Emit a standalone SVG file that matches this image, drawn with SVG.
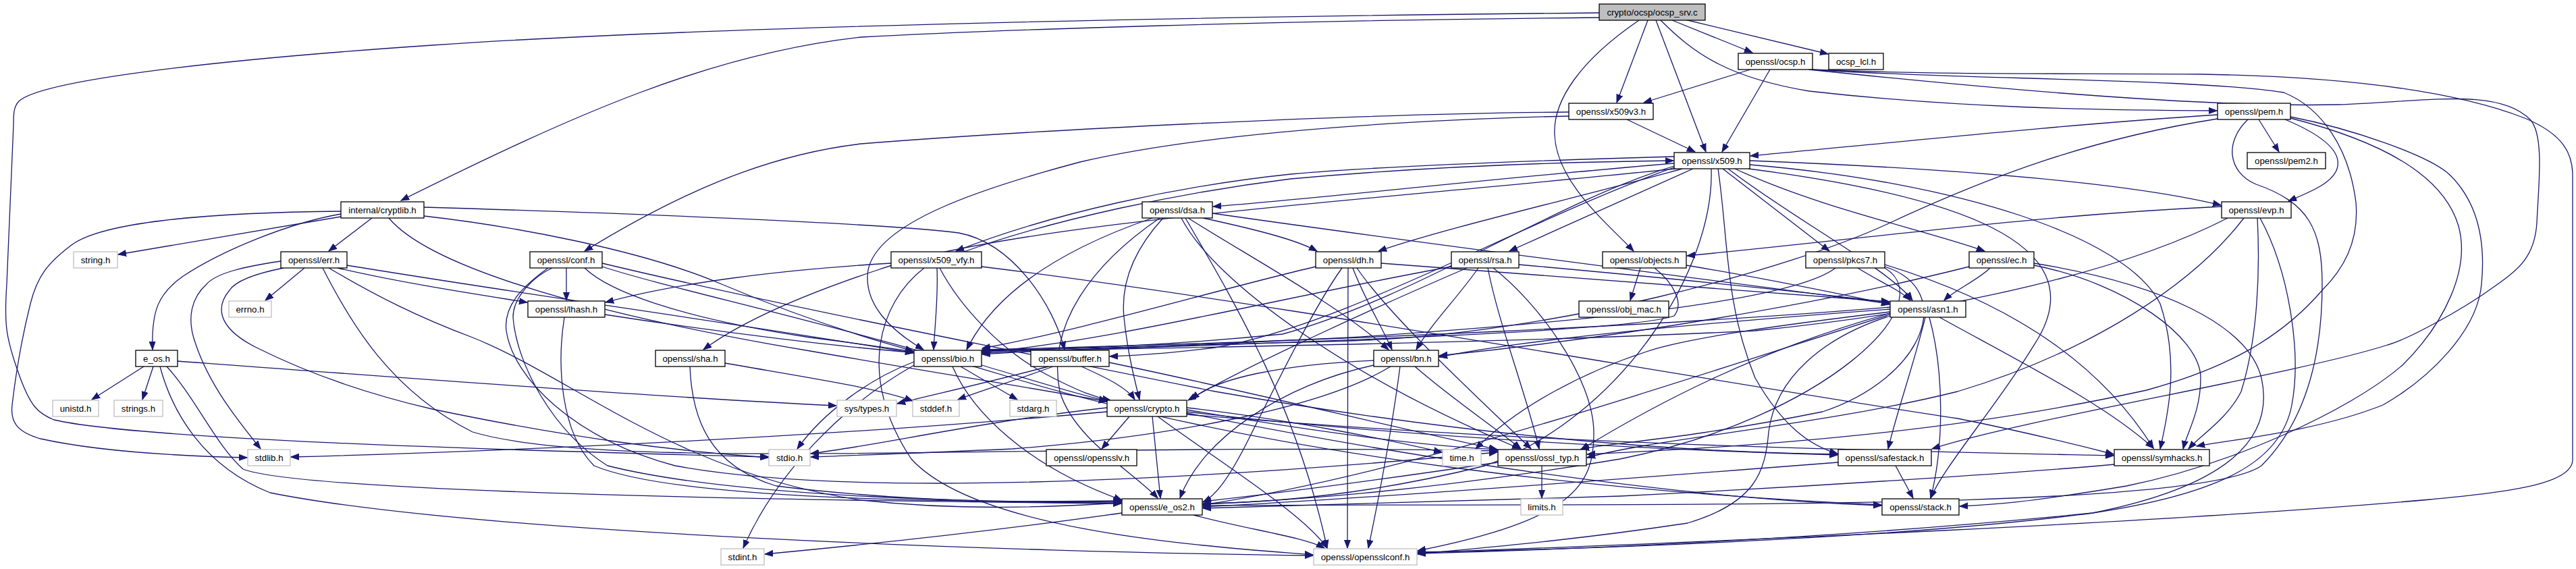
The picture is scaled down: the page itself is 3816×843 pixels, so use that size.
<svg xmlns="http://www.w3.org/2000/svg" width="3816" height="843" viewBox="0 0 3816 843">
<defs>
<style>
.e{fill:none;stroke:#191970;stroke-width:1.3;marker-end:url(#a)}
.n rect{fill:#fff;stroke:#000;stroke-width:1.3}
.g rect{fill:#fff;stroke:#bfbfbf;stroke-width:1.3}
text{font-family:"Liberation Sans",Arial,Helvetica,sans-serif;font-size:13.3px;text-anchor:middle;fill:#000}
</style>
<marker id="a" markerWidth="13" markerHeight="10" refX="12" refY="5" orient="auto" markerUnits="userSpaceOnUse"><path d="M0,0.5 L12,5 L0,9.5 z" fill="#191970" stroke="#191970" stroke-width="1"/></marker>
</defs>
<rect x="0" y="0" width="3816" height="843" fill="#fff"/>
<g id="edges">
<path class="e" d="M2369,19 C1700,25 1000,42 640,67 C300,90 60,120 28,150 C20,158 20,170 20,185 L10,421 C6,480 8,500 30,560 C45,600 55,612 80,622 C200,650 700,666 1139,677"/>
<path class="e" d="M2369,26 C1900,30 1450,45 1276,55 C1050,80 850,170 594,297"/>
<path class="e" d="M2428,30 C2340,90 2300,150 2303,200 C2306,270 2380,330 2420,372"/>
<path class="e" d="M2441,30 L2395,152"/>
<path class="e" d="M2453,30 L2527,225"/>
<path class="e" d="M2460,30 C2510,80 2560,115 2680,135 C2900,160 3100,163 3284,164"/>
<path class="e" d="M2477,30 L2596,78"/>
<path class="e" d="M2496,29 L2708,80"/>
<path class="e" d="M2593,103 L2435,152"/>
<path class="e" d="M2622,103 L2551,225"/>
<path class="e" d="M2684,103 C2900,112 3100,108 3261,110 C3500,114 3650,140 3740,175 C3800,200 3811,230 3811,260 L3811,681 C3811,720 3700,730 3600,740 C3200,775 2600,800 2100,819"/>
<path class="e" d="M2682,103 C2900,118 3250,116 3383,137 C3440,160 3480,220 3490,300 C3495,360 3470,400 3440,430 C3380,500 3300,545 3180,578 C2900,640 2600,662 2351,673"/>
<path class="e" d="M2679,103 C2900,126 3250,160 3464,155 C3600,150 3700,130 3748,177 C3770,200 3760,280 3758,330 C3755,380 3730,400 3700,421 C3640,465 3560,505 3537,511 C3400,555 3000,620 2862,665"/>
<path class="e" d="M2410,177 L2511,225"/>
<path class="e" d="M2324,166 C2000,168 1500,195 1276,213 C1130,230 1000,290 866,372"/>
<path class="e" d="M2324,172 C2000,180 1750,205 1600,240 C1450,280 1300,330 1286,400 C1278,450 1320,490 1368,518"/>
<path class="e" d="M3285,170 C3050,185 2800,212 2593,231"/>
<path class="e" d="M3285,176 C3100,205 2950,260 2800,330 C2650,400 2300,495 2000,505 C1750,512 1550,516 1455,520"/>
<path class="e" d="M3330,177 C3295,210 3300,255 3342,273 C3420,300 3440,340 3440,421 C3440,520 3420,620 3350,690 C3250,760 2400,745 1782,749"/>
<path class="e" d="M3346,177 L3376,225"/>
<path class="e" d="M3385,177 C3440,200 3470,225 3462,250 C3455,272 3420,285 3390,298"/>
<path class="e" d="M3393,173 C3480,190 3600,230 3630,260 C3680,310 3680,380 3676,421 C3670,490 3600,560 3530,600 C3430,640 3300,652 3254,661"/>
<path class="e" d="M3393,175 C3530,210 3620,260 3642,335 C3660,400 3620,480 3560,540 C3480,610 3300,690 3150,720 C3000,745 2950,748 2903,750"/>
<path class="e" d="M2480,232 C2200,240 2000,250 1912,258 C1750,275 1560,315 1416,372"/>
<path class="e" d="M1428,373 C1560,325 1750,285 1912,265 C2100,248 2300,240 2479,238"/>
<path class="e" d="M2480,242 C2200,265 1950,295 1797,306"/>
<path class="e" d="M2492,250 C2350,290 2150,335 2042,372"/>
<path class="e" d="M2508,250 L2236,372"/>
<path class="e" d="M2552,250 L2710,372"/>
<path class="e" d="M2570,250 C2700,310 2850,340 2940,372"/>
<path class="e" d="M2560,250 C2650,320 2800,400 2833,445"/>
<path class="e" d="M2480,246 C2300,300 2100,440 1900,495 C1700,515 1550,517 1455,519"/>
<path class="e" d="M2480,248 C2250,330 2000,480 1800,515 C1720,525 1680,527 1644,528"/>
<path class="e" d="M2482,250 C2000,300 1500,330 1300,400 C1150,450 1080,490 1042,518"/>
<path class="e" d="M2592,238 C2900,250 3150,270 3290,304"/>
<path class="e" d="M2545,250 C2560,350 2555,450 2600,560 C2640,630 2680,660 2722,672"/>
<path class="e" d="M2590,250 C2900,290 3100,360 3020,500 C2960,600 2880,690 2860,738"/>
<path class="e" d="M2592,244 C2900,270 3150,350 3200,450 C3230,540 3210,620 3200,665"/>
<path class="e" d="M2535,250 C2540,400 2400,620 2200,690 C2000,740 1850,745 1782,746"/>
<path class="e" d="M505,313 C300,315 150,330 106,363 C70,390 55,410 45,450 C35,490 25,540 18,600 C15,625 25,640 60,650 C150,670 280,676 366,678"/>
<path class="e" d="M505,317 C430,330 330,370 270,410 C235,435 224,460 226,518"/>
<path class="e" d="M505,321 L175,377"/>
<path class="e" d="M551,323 L487,372"/>
<path class="e" d="M576,323 C640,400 900,470 1200,520 C1400,555 1550,578 1640,595"/>
<path class="e" d="M628,307 C900,315 1300,330 1420,345 C1500,360 1560,450 1577,518"/>
<path class="e" d="M628,320 C760,335 950,370 1069,421 C1180,468 1280,500 1353,520"/>
<path class="e" d="M416,387 C360,395 320,405 306,421 C285,440 275,470 290,510 C310,570 350,620 386,665"/>
<path class="e" d="M420,397 C380,405 350,415 340,430 C315,460 330,490 380,515 C460,555 550,585 640,606 C850,650 1000,668 1138,678"/>
<path class="e" d="M451,397 L393,445"/>
<path class="e" d="M478,397 C520,480 580,580 700,640 C900,700 1500,655 2218,668"/>
<path class="e" d="M487,397 C560,440 620,470 700,500 C850,560 1000,700 1276,741 C1450,760 1600,748 1661,745"/>
<path class="e" d="M500,397 C600,420 700,435 781,448"/>
<path class="e" d="M514,393 C800,440 1100,480 1353,523"/>
<path class="e" d="M839,397 L839,445"/>
<path class="e" d="M866,397 C900,430 1000,470 1200,500 C1280,510 1320,516 1353,521"/>
<path class="e" d="M892,395 C1000,430 1200,470 1500,560 C1900,680 2400,730 2787,748"/>
<path class="e" d="M892,390 C1100,440 1400,500 1800,580 C2200,650 2500,670 2722,673"/>
<path class="e" d="M818,397 C790,410 760,440 760,470 C765,540 820,640 900,690 C1100,740 1500,745 1661,743"/>
<path class="e" d="M812,397 C780,420 745,450 750,490 C760,560 850,650 1000,690 C1300,745 1900,700 2218,670"/>
<path class="e" d="M1320,390 C1150,400 1000,420 897,448"/>
<path class="e" d="M1369,397 C1300,450 1270,560 1350,680 C1450,790 1800,810 1945,822"/>
<path class="e" d="M1388,397 C1390,440 1385,480 1383,518"/>
<path class="e" d="M1392,397 C1420,450 1480,520 1560,560 C1600,580 1620,588 1645,593"/>
<path class="e" d="M1454,395 C1900,450 2500,560 2900,620 C3000,640 3100,665 3131,673"/>
<path class="e" d="M1707,323 C1600,360 1480,420 1432,518"/>
<path class="e" d="M1723,323 C1680,370 1660,420 1665,470 C1670,520 1680,560 1688,592"/>
<path class="e" d="M1718,323 C1620,390 1550,480 1570,580 C1590,650 1680,700 1715,738"/>
<path class="e" d="M1750,323 C1800,420 2000,560 2252,665"/>
<path class="e" d="M1756,323 C1830,450 1920,600 1966,812"/>
<path class="e" d="M1760,323 C1850,380 1980,450 2057,518"/>
<path class="e" d="M1782,323 C1860,340 1920,355 1951,372"/>
<path class="e" d="M1796,316 C2100,360 2500,410 2799,450"/>
<path class="e" d="M1949,395 C1800,430 1600,490 1455,516"/>
<path class="e" d="M1988,397 C1950,450 1900,550 1850,650 C1820,710 1800,735 1782,744"/>
<path class="e" d="M1997,397 C1997,500 1996,700 1996,812"/>
<path class="e" d="M2004,397 C2020,440 2045,480 2062,518"/>
<path class="e" d="M2010,397 C2060,470 2180,580 2268,665"/>
<path class="e" d="M2046,390 C2300,410 2600,430 2799,447"/>
<path class="e" d="M2150,395 C1900,440 1650,505 1455,522"/>
<path class="e" d="M2173,397 C2050,450 1850,540 1760,593"/>
<path class="e" d="M2190,397 C2160,440 2120,480 2098,518"/>
<path class="e" d="M2204,397 C2220,480 2260,580 2280,665"/>
<path class="e" d="M2212,397 C2280,450 2360,560 2361,640 C2362,720 2330,770 2100,816"/>
<path class="e" d="M2250,392 C2450,410 2650,430 2799,448"/>
<path class="e" d="M2430,397 L2415,445"/>
<path class="e" d="M2451,397 C2480,420 2495,450 2480,468 C2420,490 2000,505 1455,523"/>
<path class="e" d="M2498,393 C2600,410 2700,430 2799,451"/>
<path class="e" d="M2752,397 C2780,415 2815,430 2830,445"/>
<path class="e" d="M2719,397 C2650,450 2300,480 2000,500 C1700,515 1550,518 1455,525"/>
<path class="e" d="M2792,392 C2950,440 3100,520 3190,664"/>
<path class="e" d="M2792,395 C2900,430 2850,560 2700,610 C2500,650 2400,655 2342,665"/>
<path class="e" d="M2792,397 C2880,450 2700,620 2400,680 C2100,730 1900,742 1782,747"/>
<path class="e" d="M2917,395 C2700,450 2400,500 2132,527"/>
<path class="e" d="M2948,397 C2930,415 2895,430 2880,445"/>
<path class="e" d="M3013,390 C3200,420 3330,480 3350,560 C3370,650 3300,720 3100,760 C2800,800 2300,815 2100,818"/>
<path class="e" d="M3013,393 C3150,420 3260,500 3260,560 C3260,610 3240,640 3234,665"/>
<path class="e" d="M836,470 C825,540 830,640 880,690 C1000,740 1400,745 1661,742"/>
<path class="e" d="M896,466 C1050,490 1250,515 1353,522"/>
<path class="e" d="M2800,462 C2650,480 2500,500 2439,521 C2350,550 2250,600 2186,665"/>
<path class="e" d="M2800,466 C2500,560 2100,700 1782,748"/>
<path class="e" d="M2800,468 C2700,500 2630,560 2620,640 C2615,700 2600,745 2500,775 C2300,805 2150,815 2100,821"/>
<path class="e" d="M2800,455 C2500,480 2000,505 1455,518"/>
<path class="e" d="M2858,470 C2880,550 2880,660 2860,738"/>
<path class="e" d="M2852,470 C2835,540 2810,610 2797,665"/>
<path class="e" d="M2873,470 C3000,540 3120,600 3190,664"/>
<path class="e" d="M2800,464 C2600,520 2450,600 2342,666"/>
<path class="e" d="M2800,458 C2500,480 2250,505 2132,529"/>
<path class="e" d="M213,543 L136,592"/>
<path class="e" d="M227,543 L211,592"/>
<path class="e" d="M237,543 C255,610 300,690 400,730 C700,790 1500,818 1945,823"/>
<path class="e" d="M247,543 C290,590 320,660 360,695 C450,730 1200,742 1661,746"/>
<path class="e" d="M263,535 C600,560 1000,590 1239,601"/>
<path class="e" d="M1022,543 C1025,620 1050,690 1150,720 C1350,745 1550,745 1661,745"/>
<path class="e" d="M1074,538 C1200,560 1300,575 1352,594"/>
<path class="e" d="M1354,536 C1290,560 1220,610 1181,665"/>
<path class="e" d="M1354,541 C1250,600 1150,700 1101,812"/>
<path class="e" d="M1411,543 C1440,610 1520,690 1662,741"/>
<path class="e" d="M1423,543 L1507,592"/>
<path class="e" d="M1454,541 C1520,560 1580,580 1640,594"/>
<path class="e" d="M1553,543 C1450,570 1380,585 1329,598"/>
<path class="e" d="M1560,543 C1500,565 1450,580 1419,592"/>
<path class="e" d="M1602,543 C1640,560 1670,575 1681,592"/>
<path class="e" d="M1643,537 C1850,580 2050,630 2218,666"/>
<path class="e" d="M2035,534 C1900,540 1800,560 1765,592"/>
<path class="e" d="M2035,541 C1900,570 1780,650 1748,738"/>
<path class="e" d="M2060,543 C1950,610 1700,650 1500,665 C1350,672 1250,675 1201,677"/>
<path class="e" d="M2074,543 C2060,650 2040,750 2027,812"/>
<path class="e" d="M2096,543 C2150,590 2210,630 2253,665"/>
<path class="e" d="M1640,604 C1450,625 1300,660 1201,672"/>
<path class="e" d="M1640,610 C1200,650 700,670 431,677"/>
<path class="e" d="M1673,617 L1632,665"/>
<path class="e" d="M1707,617 L1719,738"/>
<path class="e" d="M1758,604 C1900,620 2050,650 2136,670"/>
<path class="e" d="M1758,607 C1950,640 2100,660 2218,666"/>
<path class="e" d="M1715,617 C1800,680 1930,760 1966,812"/>
<path class="e" d="M1758,610 C2100,650 2500,668 2722,674"/>
<path class="e" d="M1758,612 C2100,680 2500,740 2787,749"/>
<path class="e" d="M1758,614 C2300,660 2800,668 3131,675"/>
<path class="e" d="M2284,690 L2284,738"/>
<path class="e" d="M2219,685 C2050,710 1900,730 1782,743"/>
<path class="e" d="M2808,690 L2834,738"/>
<path class="e" d="M2723,685 C2400,710 2000,740 1782,751"/>
<path class="e" d="M3132,688 C3000,700 2700,720 2400,735 C2100,745 1900,748 1782,753"/>
<path class="e" d="M1662,760 C1450,790 1250,810 1133,821"/>
<path class="e" d="M1768,763 C1850,785 1930,795 1962,812"/>
<path class="e" d="M3291,306 C3000,320 2800,350 2499,379"/>
<path class="e" d="M3300,323 C3150,400 2900,460 2600,490 C2200,510 1700,515 1455,521"/>
<path class="e" d="M3344,323 C3348,400 3345,500 3320,580 C3300,620 3260,645 3242,665"/>
<path class="e" d="M3348,323 C3390,400 3410,520 3395,600 C3380,680 3300,730 3100,760 C2700,800 2300,815 2100,820"/>
<path class="e" d="M3324,323 C3250,420 3100,520 2900,580 C2700,630 2450,650 2351,678"/>
</g>
<g id="n-ocsp_srv" class="n"><rect x="2369" y="6" width="157" height="24" style="fill:#bfbfbf"/><text x="2447.5" y="23">crypto/ocsp/ocsp_srv.c</text></g>
<g id="n-ocsp_h" class="n"><rect x="2575" y="79" width="110" height="24"/><text x="2630" y="96">openssl/ocsp.h</text></g>
<g id="n-ocsp_lcl" class="n"><rect x="2709" y="79" width="81" height="24"/><text x="2749.5" y="96">ocsp_lcl.h</text></g>
<g id="n-x509v3" class="n"><rect x="2324" y="153" width="125" height="24"/><text x="2386.5" y="170">openssl/x509v3.h</text></g>
<g id="n-pem" class="n"><rect x="3285" y="153" width="108" height="24"/><text x="3339" y="170">openssl/pem.h</text></g>
<g id="n-x509" class="n"><rect x="2480" y="226" width="112" height="24"/><text x="2536" y="243">openssl/x509.h</text></g>
<g id="n-pem2" class="n"><rect x="3329" y="226" width="116" height="24"/><text x="3387" y="243">openssl/pem2.h</text></g>
<g id="n-cryptlib" class="n"><rect x="505" y="299" width="123" height="24"/><text x="566.5" y="316">internal/cryptlib.h</text></g>
<g id="n-dsa" class="n"><rect x="1692" y="299" width="104" height="24"/><text x="1744" y="316">openssl/dsa.h</text></g>
<g id="n-evp" class="n"><rect x="3291" y="299" width="103" height="24"/><text x="3342.5" y="316">openssl/evp.h</text></g>
<g id="n-err" class="n"><rect x="416" y="373" width="98" height="24"/><text x="465" y="390">openssl/err.h</text></g>
<g id="n-conf" class="n"><rect x="785" y="373" width="107" height="24"/><text x="838.5" y="390">openssl/conf.h</text></g>
<g id="n-x509_vfy" class="n"><rect x="1320" y="373" width="134" height="24"/><text x="1387" y="390">openssl/x509_vfy.h</text></g>
<g id="n-dh" class="n"><rect x="1949" y="373" width="97" height="24"/><text x="1997.5" y="390">openssl/dh.h</text></g>
<g id="n-rsa" class="n"><rect x="2150" y="373" width="100" height="24"/><text x="2200" y="390">openssl/rsa.h</text></g>
<g id="n-objects" class="n"><rect x="2374" y="373" width="124" height="24"/><text x="2436" y="390">openssl/objects.h</text></g>
<g id="n-pkcs7" class="n"><rect x="2675" y="373" width="117" height="24"/><text x="2733.5" y="390">openssl/pkcs7.h</text></g>
<g id="n-ec" class="n"><rect x="2917" y="373" width="96" height="24"/><text x="2965" y="390">openssl/ec.h</text></g>
<g id="n-string" class="g"><rect x="109" y="373" width="65" height="24"/><text x="141.5" y="390">string.h</text></g>
<g id="n-errno" class="g"><rect x="339" y="446" width="63" height="24"/><text x="370.5" y="463">errno.h</text></g>
<g id="n-lhash" class="n"><rect x="782" y="446" width="114" height="24"/><text x="839" y="463">openssl/lhash.h</text></g>
<g id="n-obj_mac" class="n"><rect x="2339" y="446" width="133" height="24"/><text x="2405.5" y="463">openssl/obj_mac.h</text></g>
<g id="n-asn1" class="n"><rect x="2800" y="446" width="112" height="24"/><text x="2856" y="463">openssl/asn1.h</text></g>
<g id="n-e_os" class="n"><rect x="201" y="519" width="62" height="24"/><text x="232" y="536">e_os.h</text></g>
<g id="n-sha" class="n"><rect x="971" y="519" width="103" height="24"/><text x="1022.5" y="536">openssl/sha.h</text></g>
<g id="n-bio" class="n"><rect x="1354" y="519" width="100" height="24"/><text x="1404" y="536">openssl/bio.h</text></g>
<g id="n-buffer" class="n"><rect x="1527" y="519" width="116" height="24"/><text x="1585" y="536">openssl/buffer.h</text></g>
<g id="n-bn" class="n"><rect x="2035" y="519" width="96" height="24"/><text x="2083" y="536">openssl/bn.h</text></g>
<g id="n-unistd" class="g"><rect x="78" y="593" width="68" height="24"/><text x="112" y="610">unistd.h</text></g>
<g id="n-strings" class="g"><rect x="169" y="593" width="72" height="24"/><text x="205" y="610">strings.h</text></g>
<g id="n-systypes" class="g"><rect x="1240" y="593" width="88" height="24"/><text x="1284" y="610">sys/types.h</text></g>
<g id="n-stddef" class="g"><rect x="1352" y="593" width="69" height="24"/><text x="1386.5" y="610">stddef.h</text></g>
<g id="n-stdarg" class="g"><rect x="1496" y="593" width="69" height="24"/><text x="1530.5" y="610">stdarg.h</text></g>
<g id="n-crypto" class="n"><rect x="1640" y="593" width="118" height="24"/><text x="1699" y="610">openssl/crypto.h</text></g>
<g id="n-stdlib" class="g"><rect x="367" y="666" width="63" height="24"/><text x="398.5" y="683">stdlib.h</text></g>
<g id="n-stdio" class="g"><rect x="1139" y="666" width="61" height="24"/><text x="1169.5" y="683">stdio.h</text></g>
<g id="n-opensslv" class="n"><rect x="1550" y="666" width="134" height="24"/><text x="1617" y="683">openssl/opensslv.h</text></g>
<g id="n-time" class="g"><rect x="2137" y="666" width="57" height="24"/><text x="2165.5" y="683">time.h</text></g>
<g id="n-ossl_typ" class="n"><rect x="2219" y="666" width="131" height="24"/><text x="2284.5" y="683">openssl/ossl_typ.h</text></g>
<g id="n-safestack" class="n"><rect x="2723" y="666" width="138" height="24"/><text x="2792" y="683">openssl/safestack.h</text></g>
<g id="n-symhacks" class="n"><rect x="3132" y="666" width="141" height="24"/><text x="3202.5" y="683">openssl/symhacks.h</text></g>
<g id="n-e_os2" class="n"><rect x="1662" y="739" width="119" height="24"/><text x="1721.5" y="756">openssl/e_os2.h</text></g>
<g id="n-limits" class="g"><rect x="2253" y="739" width="62" height="24"/><text x="2284" y="756">limits.h</text></g>
<g id="n-stack" class="n"><rect x="2788" y="739" width="114" height="24"/><text x="2845" y="756">openssl/stack.h</text></g>
<g id="n-stdint" class="g"><rect x="1068" y="813" width="64" height="24"/><text x="1100" y="830">stdint.h</text></g>
<g id="n-opensslconf" class="g"><rect x="1946" y="813" width="153" height="24"/><text x="2022.5" y="830">openssl/opensslconf.h</text></g>
</svg>
